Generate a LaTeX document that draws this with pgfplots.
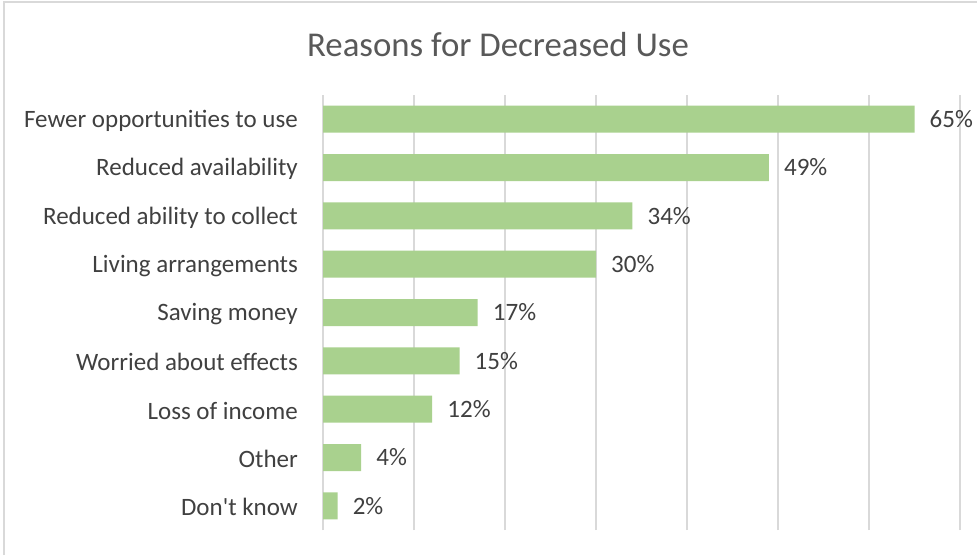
\documentclass[border=0pt]{standalone}
\usepackage{fontspec}
\setmainfont{Carlito}
\usepackage{pgfplots}
\pgfplotsset{compat=1.18}
\definecolor{barg}{HTML}{A9D18E}
\definecolor{gridc}{HTML}{D9D9D9}
\definecolor{txt}{HTML}{404040}
\definecolor{ttl}{HTML}{595959}
\begin{document}
\begin{tikzpicture}[x=1pt,y=1pt]
\path[use as bounding box] (0,0) rectangle (977,555);
\fill[white] (0,0) rectangle (977,555);
\draw[gridc, line width=1.2pt] (4,0) -- (4,553) -- (977,553);
\node[font=\fontsize{34.8}{40}\selectfont, text=ttl, anchor=base] at (498,498) {Reasons for Decreased Use};
\begin{axis}[
  at={(323pt,25pt)}, anchor=south west, scale only axis,
  width=637pt, height=435pt,
  xbar, bar width=27pt,
  xmin=0, xmax=0.7, ymin=-0.5, ymax=8.5,
  xtick={0,0.1,...,0.7}, xticklabels={},
  xmajorgrids, major grid style={gridc, line width=1.5pt},
  axis line style={draw=none},
  major tick length=0pt,
  ytick={0,...,8},
  yticklabels={Don\textquotesingle t know,Other,Loss of income,Worried about effects,Saving money,Living arrangements,Reduced ability to collect,Reduced availability,Fewer opportunities to use},
  yticklabel style={font=\fontsize{25}{30}\selectfont, text=txt, inner sep=0pt, anchor=east, xshift=-25pt, yshift=-1.5pt},
  point meta=explicit symbolic,
  nodes near coords,
  nodes near coords style={font=\fontsize{25}{30}\selectfont, text=txt, anchor=west, inner sep=0pt, xshift=15pt},
]
\addplot[fill=barg, draw=none] coordinates {
  (0.016,0) [2\%]
  (0.042,1) [4\%]
  (0.12,2) [12\%]
  (0.15,3) [15\%]
  (0.17,4) [17\%]
  (0.30,5) [30\%]
  (0.34,6) [34\%]
  (0.49,7) [49\%]
  (0.65,8) [65\%]
};
\end{axis}
\end{tikzpicture}
\end{document}
